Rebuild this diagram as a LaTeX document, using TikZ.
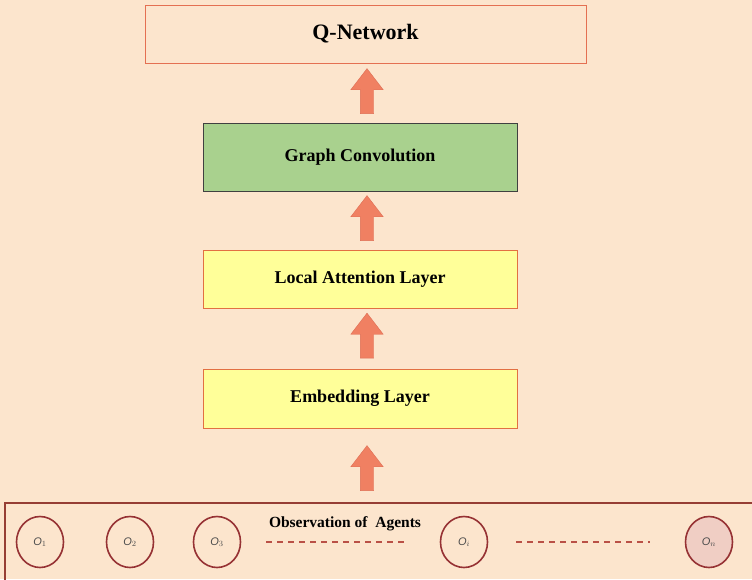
\documentclass[tikz,border=0pt]{standalone}
\usepackage{fontspec}
\setmainfont{Liberation Serif}
\setsansfont{Liberation Sans}
\usetikzlibrary{shapes.arrows,shapes.geometric}

\definecolor{bgpeach}{RGB}{252,229,205}
\definecolor{qline}{RGB}{228,112,82}
\definecolor{gcfill}{RGB}{169,209,142}
\definecolor{gcline}{RGB}{64,64,64}
\definecolor{layerfill}{RGB}{255,255,153}
\definecolor{layerline}{RGB}{226,112,66}
\definecolor{arrfill}{RGB}{240,128,98}
\definecolor{arrline}{RGB}{222,110,84}
\definecolor{obsline}{RGB}{150,62,52}
\definecolor{agentline}{RGB}{150,50,52}
\definecolor{agentn}{RGB}{240,206,196}
\definecolor{dashcol}{RGB}{186,80,70}

\tikzset{
    layer/.style={draw=layerline, line width=1pt, fill=layerfill, minimum width=314, minimum height=58, font=\bfseries\fontsize{18}{20}\selectfont},
    uparrow/.style={single arrow, draw=arrline, fill=arrfill, rotate=90, minimum height=45, minimum width=32, single arrow head extend=9.5, single arrow tip angle=75, inner xsep=0, inner ysep=6.5},
    agent/.style={ellipse, draw=agentline, line width=1.6, minimum width=47, minimum height=51, inner sep=0, font=\sffamily\itshape\fontsize{11}{12}\selectfont, text=black!70},
    dashrow/.style={draw=dashcol, line width=1.5, dash pattern=on 6 off 5}
}

\begin{document}
\begin{tikzpicture}[x=1pt,y=-1pt]
    \useasboundingbox (0,0) rectangle (752,579);
    \fill[bgpeach] (0,0) rectangle (752,579);

    % layers
    \node (qnet) at (365.5,34) [draw=qline, line width=1pt, minimum width=441, minimum height=58, font=\bfseries\fontsize{22}{24}\selectfont]{Q-Network};
    \node (gconv) at (360,157) [layer, draw=gcline, fill=gcfill, minimum height=68]{Graph Convolution};
    \node (att) at (360,279) [layer]{Local Attention Layer};
    \node (emb) at (360,398.5) [layer, minimum height=59]{Embedding Layer};

    % block arrows
    \node (arr1) at (367,95.5) [uparrow]{};
    \node (arr2) at (367,222.5) [uparrow]{};
    \node (arr3) at (367,340) [uparrow]{};
    \node (arr4) at (367,472.5) [uparrow]{};

    % observations
    \draw[obsline, line width=1.8] (5,590) -- (5,503) -- (760,503);
    \node (obs) at (345,524) [font=\bfseries\fontsize{15.5}{17}\selectfont]{Observation of\ \ Agents};

    \node (o1) at (40,542) [agent]{O$_{1}$};
    \node (o2) at (130,542) [agent]{O$_{2}$};
    \node (o3) at (217,542) [agent]{O$_{3}$};
    \node (oi) at (464,542) [agent]{O$_{i}$};
    \node (on) at (709,542) [agent, fill=agentn]{O$_{n}$};

    \draw[dashrow] ([xshift=25]o3.east) -- ([xshift=-32]oi.west);
    \draw[dashrow] ([xshift=28]oi.east) -- ([xshift=-35]on.west);
\end{tikzpicture}
\end{document}
